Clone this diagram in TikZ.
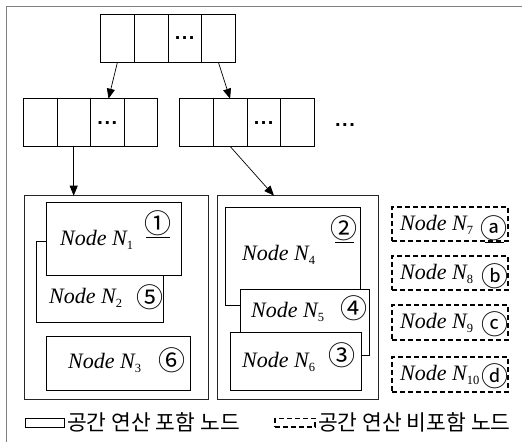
\documentclass[tikz,border=0pt]{standalone}
\usepackage{fontspec}
\setmainfont{Liberation Serif}
\newfontfamily\krfont[WordSpace=2.8]{Noto Sans CJK KR}
\newfontfamily\circfont{Noto Sans CJK KR}
\newfontfamily\dotfont{Liberation Sans}
\usetikzlibrary{arrows.meta,calc}
\newcommand\nsub[1]{\raisebox{-4.5pt}{\upshape\fontsize{12.5}{12.5}\selectfont #1}}
\begin{document}
\begin{tikzpicture}[x=1pt,y=-1pt,
  cell/.style={draw=black,line width=0.8pt,minimum width=33.6pt,minimum height=47.7pt,inner sep=0pt,outer sep=0pt,anchor=north west},
  bigbox/.style={draw=black!85,line width=0.8pt,inner sep=0pt,outer sep=0pt,anchor=north west},
  inbox/.style={draw=black,line width=1pt,fill=white,inner sep=0pt,outer sep=0pt,anchor=north west},
  dbox/.style={draw=black,line width=1.4pt,dash pattern=on 5pt off 3pt,inner sep=0pt,outer sep=0pt,anchor=north west},
  lbl/.style={anchor=base west,inner sep=0pt,font=\fontsize{22}{22}\selectfont\itshape},
  circ/.style={inner sep=0pt,font=\circfont\fontsize{27}{27}\selectfont},
  uline/.style={line width=1.1pt},
  dots/.style={inner sep=0pt,font=\dotfont\bfseries\fontsize{20}{20}\selectfont},
  arr/.style={line width=0.7pt,-{Triangle[length=10pt,width=8pt]}},
  frame/.style={draw=black!50,line width=1.5pt},
  legtext/.style={anchor=west,inner sep=0pt,font=\krfont\fontsize{21.5}{21.5}\selectfont}
]
\useasboundingbox (0,0) rectangle (522,442);
\draw[frame] (6.5,442) -- (6.5,6.5) -- (522,6.5);

% top array
\node[cell] (t1) at (100.7,14.3) {};
\node[cell] (t2) at (134.3,14.3) {};
\node[cell] (t3) at (167.9,14.3) {};
\node[cell] (t4) at (201.5,14.3) {};
\node[dots] (t3d) at (t3.center) {.\kern1.5pt.\kern1.5pt.};

% second row left
\node[cell] (l1) at (23.3,98.7) {};
\node[cell] (l2) at (56.9,98.7) {};
\node[cell] (l3) at (90.5,98.7) {};
\node[cell] (l4) at (124.1,98.7) {};
\node[dots] (l3d) at (l3.center) {.\kern1.5pt.\kern1.5pt.};

% second row right
\node[cell] (r1) at (179.7,98.7) {};
\node[cell] (r2) at (213.3,98.7) {};
\node[cell] (r3) at (246.9,98.7) {};
\node[cell] (r4) at (280.5,98.7) {};
\node[dots] (r3d) at (r3.center) {.\kern1.5pt.\kern1.5pt.};
\node[dots] (more) at (345,125) {.\kern1.5pt.\kern1.5pt.};

% big boxes
\node[bigbox,minimum width=184.4pt,minimum height=203.3pt] (B1) at (24.3,195.7) {};
\node[bigbox,minimum width=161pt,minimum height=203.3pt] (B2) at (217,195.7) {};

% arrows
\draw[arr] (t1.south) -- ([xshift=18pt]l3.north west);
\draw[arr] (t4.south) -- (r2.north);
\draw[arr] (l2.south) -- (l2.south |- B1.north);
\draw[arr] (r2.south) -- ([xshift=57pt]B2.north west);

% left group
\node[inbox,minimum width=127.3pt,minimum height=81pt] (N2) at (36,241.7) {};
\node[inbox,minimum width=135pt,minimum height=73.4pt] (N1) at (46.7,202.3) {};
\node[inbox,minimum width=144pt,minimum height=53.3pt] (N3) at (46.7,336.7) {};

\node[lbl] (L1) at (60,245) {Node N\nsub{1}};
\node[circ] (c1) at (158,223) {①};
\draw[uline] ([xshift=-12pt,yshift=-2pt]c1.south) -- ([xshift=12pt,yshift=-2pt]c1.south);
\node[lbl] (L2) at (49,303) {Node N\nsub{2}};
\node[circ] (c5) at (150,297) {⑤};
\node[lbl] (L3) at (68,368) {Node N\nsub{3}};
\node[circ] (c6) at (172,360) {⑥};

% right group
\node[inbox,minimum width=135pt,minimum height=97.7pt] (N4) at (225.7,207.3) {};
\node[inbox,minimum width=129.3pt,minimum height=66.4pt] (N5) at (240,289.3) {};
\node[inbox,minimum width=131pt,minimum height=57.7pt] (N6) at (230.7,332.3) {};

\node[lbl] (L4) at (242,260) {Node N\nsub{4}};
\node[circ] (c2) at (344,228) {②};
\draw[uline] ([xshift=-9pt,yshift=-2pt]c2.south) -- ([xshift=10pt,yshift=-2pt]c2.south);
\node[lbl] (L5) at (251,317) {Node N\nsub{5}};
\node[circ] (c4) at (354,308) {④};
\node[lbl] (L6) at (242,367) {Node N\nsub{6}};
\node[circ] (c3) at (342,355) {③};

% dashed column
\node[dbox,minimum width=116pt,minimum height=34pt] (D7) at (392,207) {};
\node[dbox,minimum width=116pt,minimum height=34pt] (D8) at (392,256) {};
\node[dbox,minimum width=116pt,minimum height=35pt] (D9) at (392,305) {};
\node[dbox,minimum width=116pt,minimum height=35pt] (D10) at (392,357) {};

\node[lbl] (L7) at (400,230) {Node N\nsub{7}};
\node[circ] (ca) at (494,228) {ⓐ};
\draw[uline] ([xshift=-9pt,yshift=-2pt]ca.south) -- ([xshift=10pt,yshift=-2pt]ca.south);
\node[lbl] (L8) at (400,279) {Node N\nsub{8}};
\node[circ] (cb) at (495,276) {ⓑ};
\node[lbl] (L9) at (400,328) {Node N\nsub{9}};
\node[circ] (cc) at (495,324) {ⓒ};
\node[lbl] (L10) at (400,380) {Node N\nsub{10}};
\node[circ] (cd) at (495,376) {ⓓ};

% legend
\node[inbox,line width=0.9pt,minimum width=39pt,minimum height=8.7pt] (G1) at (25,418.3) {};
\node[legtext] (G1t) at (67,422.7) {공간 연산 포함 노드};
\node[dbox,line width=1.1pt,dash pattern=on 5pt off 3pt,minimum width=40pt,minimum height=8.7pt] (G2) at (275,418.3) {};
\node[legtext] (G2t) at (318,422.7) {공간 연산 비포함 노드};
\end{tikzpicture}
\end{document}
